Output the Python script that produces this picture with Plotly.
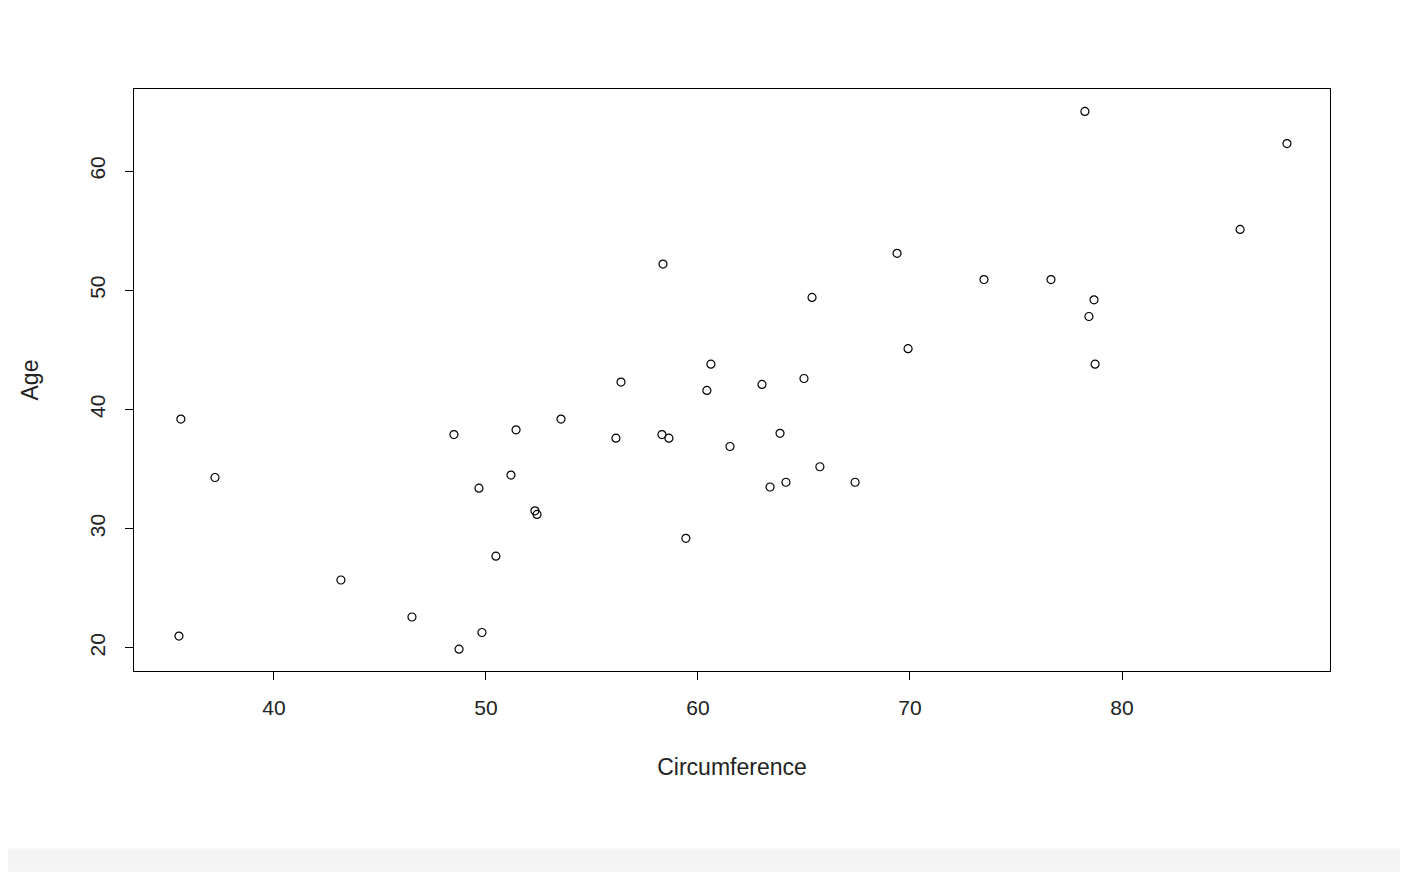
import plotly.graph_objects as go

circumference = [35.52, 35.61, 37.22, 43.16, 46.51, 48.49, 48.73, 49.67, 49.81, 50.47,
                 51.18, 51.42, 52.31, 52.41, 53.54, 56.13, 56.37, 58.35, 58.30, 58.63,
                 59.43, 60.42, 60.61, 61.51, 63.02, 63.40, 63.87, 64.15, 65.0, 65.38,
                 65.75, 67.41, 69.39, 69.91, 73.49, 76.65, 78.25, 78.44, 78.68, 78.73,
                 85.57, 87.78]
age = [21.0, 39.2, 34.3, 25.7, 22.6, 37.9, 19.9, 33.4, 21.3, 27.7,
       34.5, 38.3, 31.5, 31.2, 39.2, 37.6, 42.3, 52.2, 37.9, 37.6,
       29.2, 41.6, 43.8, 36.9, 42.1, 33.5, 38.0, 33.9, 42.6, 49.4,
       35.2, 33.9, 53.1, 45.1, 50.9, 50.9, 65.0, 47.8, 49.2, 43.8,
       55.1, 62.3]

fig = go.Figure(go.Scatter(
    x=circumference, y=age, mode="markers",
    marker={"symbol": "circle-open", "size": 8, "color": "black", "line": {"width": 1.2}},
))

font = {"family": "Liberation Sans, Arial", "size": 21, "color": "#222"}
fig.update_layout(
    width=1408, height=872,
    margin={"l": 126, "r": 86, "t": 81, "b": 209},
    plot_bgcolor="white", paper_bgcolor="white",
    showlegend=False, font=font,
)
fig.update_xaxes(
    range=[33.4, 89.81], tickvals=[40, 50, 60, 70, 80], ticks="outside", ticklen=8,
    ticklabelstandoff=10, tickfont={"size": 21},
    showgrid=False, zeroline=False, showline=True, mirror=True, linecolor="black",
    tickcolor="black", title={"text": "Circumference", "standoff": 40, "font": {"size": 23}},
)
fig.update_yaxes(
    range=[18.07, 66.88], tickvals=[20, 30, 40, 50, 60], ticks="outside", ticklen=8,
    ticklabelstandoff=12, tickfont={"size": 21},
    tickangle=-90, showgrid=False, zeroline=False, showline=True, mirror=True,
    linecolor="black", tickcolor="black", title={"text": "Age", "standoff": 40, "font": {"size": 23}},
)
fig.add_shape(type="rect", xref="paper", yref="paper", x0=-0.2, x1=1.1,
              y0=-0.345, y1=-0.305, fillcolor="#f4f4f4", line={"width": 0}, layer="below")

fig.write_html("out.html")
